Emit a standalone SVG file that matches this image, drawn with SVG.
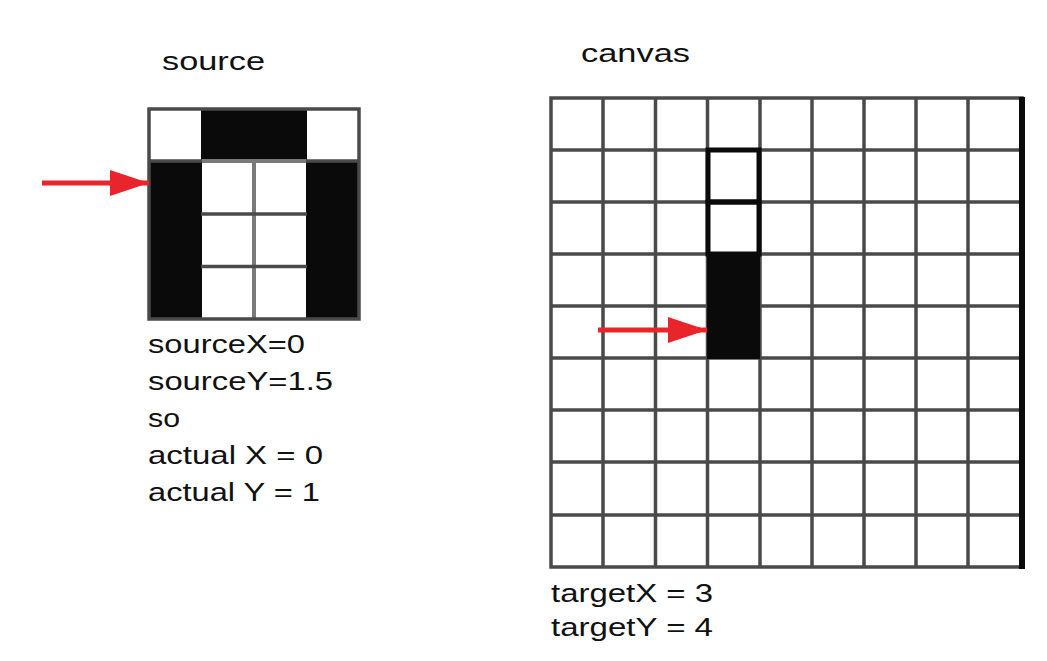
<svg xmlns="http://www.w3.org/2000/svg" width="1047" height="661" viewBox="0 0 1047 661">
  <defs>
    <style>
      .lbl { font-family: "Liberation Sans", Arial, sans-serif; font-size: 26px; fill: #111111; }
      .grid { stroke: #4a4a4a; stroke-width: 3.5; fill: none; }
      .grid2 { stroke: #7a7a7a; stroke-width: 4; fill: none; }
      .blk { fill: #0a0a0a; }
      .hl { fill: none; stroke: #0a0a0a; stroke-width: 5; }
      .arrow { stroke: #e8252b; stroke-width: 5; fill: none; }
    </style>
    <marker id="ah" markerUnits="userSpaceOnUse" markerWidth="40" markerHeight="28" refX="39" refY="13" orient="auto">
      <path d="M0,0 L39,13 L0,26 Z" fill="#e8252b"/>
    </marker>
  </defs>
  <rect width="1047" height="661" fill="#ffffff"/>

  <g id="source-title"><text class="lbl" x="162" y="70" textLength="103" lengthAdjust="spacingAndGlyphs">source</text></g>
  <g id="canvas-title"><text class="lbl" x="581" y="62" textLength="109" lengthAdjust="spacingAndGlyphs">canvas</text></g>

  <g id="source-grid">
    <rect x="149" y="109" width="210" height="210" fill="#ffffff"/>
    <rect class="blk" x="201" y="109" width="106" height="53"/>
    <rect class="blk" x="149" y="161" width="53" height="158"/>
    <rect class="blk" x="306" y="161" width="53" height="158"/>
    <line class="grid2" x1="254" y1="214" x2="254" y2="319"/>
    <line class="grid2" x1="254" y1="161" x2="254" y2="214"/>
    <line class="grid" x1="201" y1="214" x2="307" y2="214"/>
    <line class="grid" x1="201" y1="266.5" x2="307" y2="266.5"/>
    <line class="grid" x1="149" y1="161" x2="202" y2="161"/>
    <line class="grid" x1="306" y1="161" x2="359" y2="161"/>
    <line class="grid2" x1="202" y1="161" x2="306" y2="161"/>
    <rect class="grid" x="149" y="109" width="210" height="210"/>
  </g>

  <g id="source-text">
    <text class="lbl" x="148" y="353" textLength="157" lengthAdjust="spacingAndGlyphs">sourceX=0</text>
    <text class="lbl" x="148" y="390" textLength="185" lengthAdjust="spacingAndGlyphs">sourceY=1.5</text>
    <text class="lbl" x="148" y="427" textLength="32" lengthAdjust="spacingAndGlyphs">so</text>
    <text class="lbl" x="148" y="464" textLength="175" lengthAdjust="spacingAndGlyphs">actual X = 0</text>
    <text class="lbl" x="148" y="501" textLength="172" lengthAdjust="spacingAndGlyphs">actual Y = 1</text>
  </g>

  <g id="canvas-grid">
    <rect x="551" y="98" width="471" height="469" fill="#ffffff"/>
    <g class="grid">
      <line x1="603" y1="98" x2="603" y2="567"/>
      <line x1="655.5" y1="98" x2="655.5" y2="567"/>
      <line x1="707.5" y1="98" x2="707.5" y2="567"/>
      <line x1="760" y1="98" x2="760" y2="567"/>
      <line x1="812" y1="98" x2="812" y2="567"/>
      <line x1="864" y1="98" x2="864" y2="567"/>
      <line x1="916" y1="98" x2="916" y2="567"/>
      <line x1="968" y1="98" x2="968" y2="567"/>
      <line x1="551" y1="150" x2="1022" y2="150"/>
      <line x1="551" y1="202" x2="1022" y2="202"/>
      <line x1="551" y1="254" x2="1022" y2="254"/>
      <line x1="551" y1="306" x2="1022" y2="306"/>
      <line x1="551" y1="358" x2="1022" y2="358"/>
      <line x1="551" y1="410" x2="1022" y2="410"/>
      <line x1="551" y1="462" x2="1022" y2="462"/>
      <line x1="551" y1="515" x2="1022" y2="515"/>
    </g>
    <rect class="blk" x="707" y="254" width="53" height="105"/>
    <rect class="hl" x="708" y="150" width="51" height="52"/>
    <rect class="hl" x="708" y="202" width="51" height="52"/>
    <rect class="grid" x="551" y="98" width="471" height="469"/>
    <line x1="1022" y1="97" x2="1022" y2="569" stroke="#0a0a0a" stroke-width="6"/>
  </g>

  <g id="canvas-text">
    <text class="lbl" x="551" y="602" textLength="162" lengthAdjust="spacingAndGlyphs">targetX = 3</text>
    <text class="lbl" x="551" y="636" textLength="162" lengthAdjust="spacingAndGlyphs">targetY = 4</text>
  </g>

  <g id="connectors">
    <line class="arrow" x1="42" y1="183" x2="149" y2="183" marker-end="url(#ah)"/>
    <line class="arrow" x1="598" y1="330" x2="707" y2="330" marker-end="url(#ah)"/>
  </g>
</svg>
